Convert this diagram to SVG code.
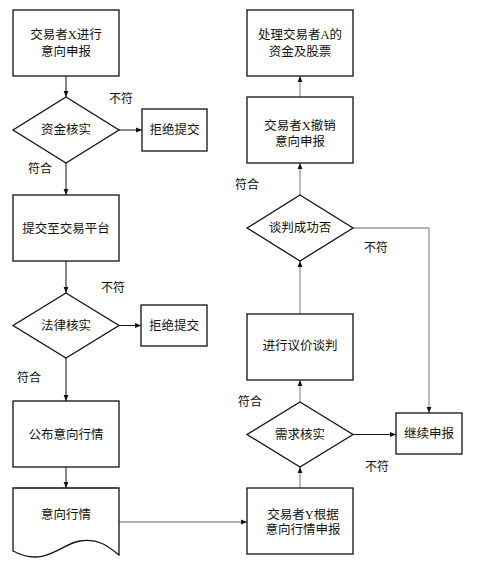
<svg xmlns="http://www.w3.org/2000/svg" width="486" height="564" viewBox="0 0 486 564">
<style>
.n{fill:#fff;stroke:#111;stroke-width:1.3}
.t{font-family:"Liberation Serif","Noto Sans CJK SC",serif;font-size:12.5px;fill:#111;text-anchor:middle;dominant-baseline:central}
.l{font-family:"Liberation Serif","Noto Sans CJK SC",serif;font-size:12px;fill:#111;text-anchor:middle;dominant-baseline:central}
.c{fill:none;stroke:#111;stroke-width:1;marker-end:url(#a)}
.g{fill:none;stroke:#999;stroke-width:1.3;marker-end:url(#a)}
.gn{fill:none;stroke:#999;stroke-width:1.3}
</style>
<defs>
<marker id="a" viewBox="0 0 10 10" refX="10" refY="5" markerWidth="8" markerHeight="6" markerUnits="userSpaceOnUse" orient="auto">
<path d="M0,1 L10,5 L0,9 Z" fill="#111"/>
</marker>
</defs>
<rect width="486" height="564" fill="#fff"/>
<g id="connectors">
<path class="c" d="M66,76 V97"/>
<path class="c" d="M119,130 H142"/>
<path class="c" d="M66,163 V195"/>
<path class="c" d="M66,261 V293"/>
<path class="c" d="M119,325.5 H141"/>
<path class="c" d="M66,358 V401"/>
<path class="c" d="M66,467 V488"/>
<path class="g" d="M119,522 H247"/>
<path class="g" d="M300,488 V467"/>
<path class="g" d="M300,402 V380"/>
<path class="c" d="M353,434.5 H396"/>
<path class="g" d="M300,314 V261"/>
<path class="gn" d="M353,228 H429"/>
<path class="g" d="M429,228 V413"/>
<path class="g" d="M300,195 V163"/>
<path class="g" d="M300,97 V76"/>
</g>
<g id="labels">
<text class="l" x="121" y="99">不符</text>
<text class="l" x="40" y="169">符合</text>
<text class="l" x="113" y="288">不符</text>
<text class="l" x="29" y="378">符合</text>
<text class="l" x="247" y="185">符合</text>
<text class="l" x="376" y="248">不符</text>
<text class="l" x="250" y="402">符合</text>
<text class="l" x="377" y="467">不符</text>
</g>
<g id="n1"><rect class="n" x="13" y="10" width="106" height="66"/><text class="t" x="66" y="35">交易者X进行</text><text class="t" x="66" y="52">意向申报</text></g>
<g id="n2"><path class="n" d="M66,97 L119,130 L66,163 L13,130 Z"/><text class="t" x="66" y="130">资金核实</text></g>
<g id="n3"><rect class="n" x="142" y="109" width="65" height="42"/><text class="t" x="174.5" y="130">拒绝提交</text></g>
<g id="n4"><rect class="n" x="13" y="195" width="106" height="66"/><text class="t" x="66" y="229">提交至交易平台</text></g>
<g id="n5"><path class="n" d="M66,293 L119,325.5 L66,358 L13,325.5 Z"/><text class="t" x="66" y="325.5">法律核实</text></g>
<g id="n6"><rect class="n" x="141" y="305" width="66" height="41"/><text class="t" x="174" y="325.5">拒绝提交</text></g>
<g id="n7"><rect class="n" x="13" y="401" width="106" height="66"/><text class="t" x="66" y="435">公布意向行情</text></g>
<g id="n8"><path class="n" d="M13,488 H119 V555 C 108,546 98,538 80,541 C 60,544 45,568 13,551 Z"/><text class="t" x="66" y="515">意向行情</text></g>
<g id="n9"><rect class="n" x="247" y="10" width="106" height="66"/><text class="t" x="300" y="35">处理交易者A的</text><text class="t" x="300" y="52">资金及股票</text></g>
<g id="n10"><rect class="n" x="247" y="97" width="106" height="66"/><text class="t" x="300" y="126">交易者X撤销</text><text class="t" x="300" y="142">意向申报</text></g>
<g id="n11"><path class="n" d="M300,195 L353,228 L300,261 L247,228 Z"/><text class="t" x="300" y="228">谈判成功否</text></g>
<g id="n12"><rect class="n" x="247" y="314" width="106" height="66"/><text class="t" x="300" y="346">进行议价谈判</text></g>
<g id="n13"><path class="n" d="M300,402 L353,434.5 L300,467 L247,434.5 Z"/><text class="t" x="300" y="434.5">需求核实</text></g>
<g id="n14"><rect class="n" x="396" y="413" width="66" height="41"/><text class="t" x="429" y="434">继续申报</text></g>
<g id="n15"><rect class="n" x="247" y="488" width="106" height="66"/><text class="t" x="303" y="515">交易者Y根据</text><text class="t" x="303" y="530">意向行情申报</text></g>
</svg>
